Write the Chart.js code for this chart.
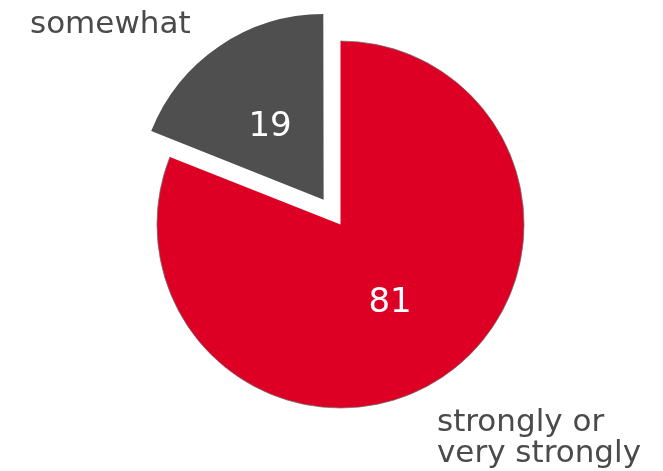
<!DOCTYPE html>
<html>
<head>
<meta charset="utf-8">
<script src="https://cdn.jsdelivr.net/npm/chart.js@4"></script>
<style>
  html, body { margin: 0; padding: 0; background: #fff; }
  #pie { display: block; }
</style>
</head>
<body>
<canvas id="pie" width="663" height="471"></canvas>
<script>
// data
const categories = ['strongly or very strongly', 'somewhat'];
const values = [81, 19];
const sliceColors = ['#de0024', '#4f4f4f'];
const sliceOffsets = [0, 120]; // chart.js moves a slice by offset / 4

// the outside labels, one entry per line
const outerLabels = [
    { lines: ['somewhat'], x: 30, y: 33 },
    { lines: ['strongly or', 'very strongly'], x: 437, y: 431 }
];

const labelFont = '31px "DejaVu Sans", Verdana, sans-serif';
const valueFont = '34px "DejaVu Sans", Verdana, sans-serif';

// draws the thin grey rim on the big slice plus all the texts
const piePlugin = {
    id: 'pieLabels',
    afterDatasetsDraw(chart) {
        const ctx = chart.ctx;
        const arcs = chart.getDatasetMeta(0).data;

        // rim on the outer edge of the red slice only
        const red = arcs[0];
        ctx.save();
        ctx.strokeStyle = 'rgba(110,110,110,0.75)';
        ctx.lineWidth = 1;
        ctx.beginPath();
        ctx.arc(red.x, red.y, red.outerRadius, red.startAngle, red.endAngle);
        ctx.stroke();
        ctx.restore();

        // values in the middle of each slice
        ctx.save();
        ctx.font = valueFont;
        ctx.fillStyle = '#ffffff';
        ctx.textAlign = 'center';
        ctx.textBaseline = 'middle';
        arcs.forEach((arc, i) => {
            const mid = (arc.startAngle + arc.endAngle) / 2;
            const r = arc.outerRadius / 2 + sliceOffsets[i] / 4;
            // +3 so the digits sit visually centred, not the em box
            ctx.fillText(values[i], arc.x + Math.cos(mid) * r - 2, arc.y + Math.sin(mid) * r + 3);
        });
        ctx.restore();

        // category labels outside
        ctx.save();
        ctx.font = labelFont;
        ctx.fillStyle = '#4a4a4a';
        ctx.textAlign = 'left';
        ctx.textBaseline = 'alphabetic';
        outerLabels.forEach((lab) => {
            lab.lines.forEach((line, j) => {
                ctx.fillText(line, lab.x, lab.y + j * 31);
            });
        });
        ctx.restore();
    }
};

const ctx = document.getElementById('pie').getContext('2d');
const pieChart = new Chart(ctx, {
    type: 'pie',
    data: {
        labels: categories,
        datasets: [{
            data: values,
            backgroundColor: sliceColors,
            borderWidth: 0,
            offset: sliceOffsets,
            hoverOffset: 0
        }]
    },
    options: {
        responsive: false,
        animation: false,
        radius: 183.5,
        layout: {
            padding: { left: 18, right: 0, top: 0, bottom: 22 }
        },
        plugins: {
            legend: { display: false },
            tooltip: { enabled: false }
        }
    },
    plugins: [piePlugin]
});
</script>
</body>
</html>
